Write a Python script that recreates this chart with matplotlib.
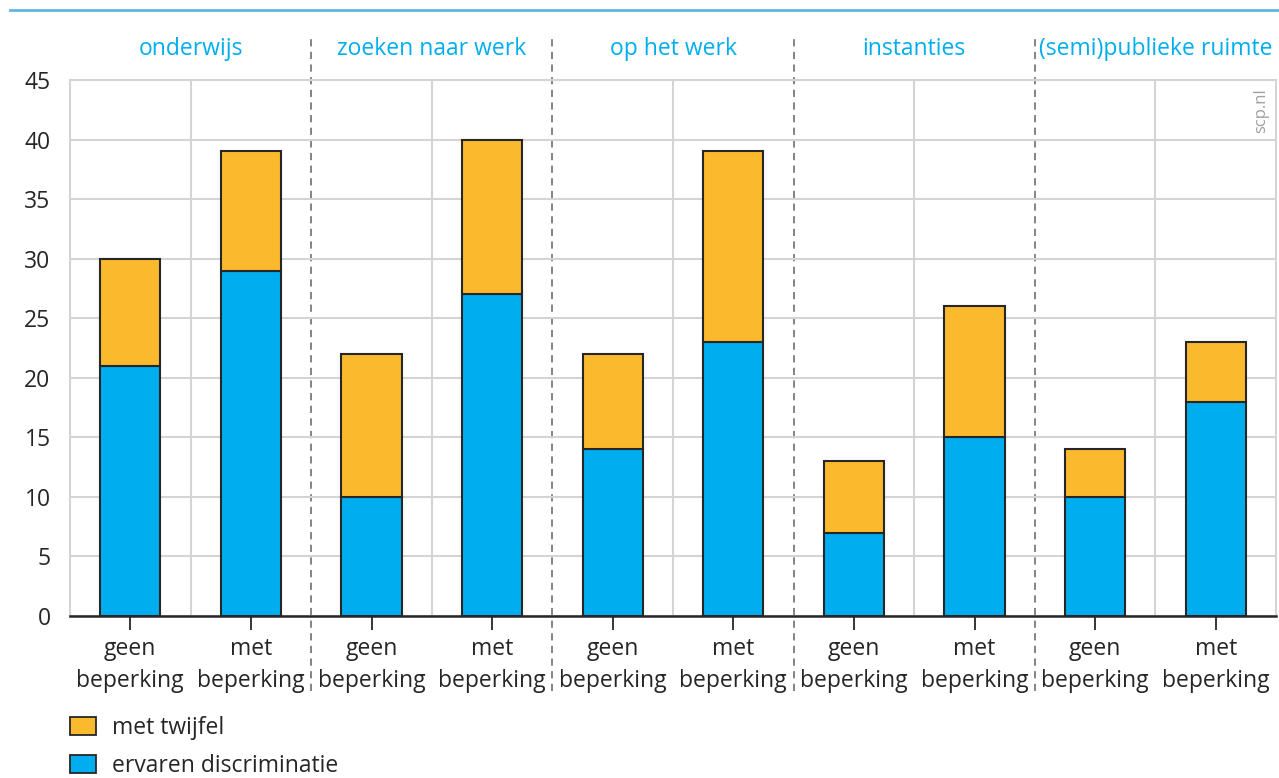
import numpy as np
from matplotlib import pyplot as plt
from matplotlib.lines import Line2D
from matplotlib.patches import Patch

groups = ['onderwijs', 'zoeken naar werk', 'op het werk', 'instanties', '(semi)publieke ruimte']
sub_labels = ['geen\nbeperking', 'met\nbeperking']
ervaren = [21, 29, 10, 27, 14, 23, 7, 15, 10, 18]
twijfel = [9, 10, 12, 13, 8, 16, 6, 11, 4, 5]

blue = '#00AEEF'
orange = '#FBBA2E'
edge = '#262626'
grid_c = '#d4d4d4'
txt = '#262626'

plt.rcParams['font.family'] = ['Open Sans', 'DejaVu Sans']

fig = plt.figure(figsize=(12.79, 7.78), dpi=100)
ax = fig.add_axes([70/1279, 1-616/778, 1206/1279, 536/778])

x = np.arange(len(ervaren))
ax.bar(x, ervaren, width=0.5, color=blue, edgecolor=edge, linewidth=1.5, zorder=3)
ax.bar(x, twijfel, width=0.5, bottom=ervaren, color=orange, edgecolor=edge, linewidth=1.5, zorder=3)

ax.set_xlim(-0.5, 9.5)
ax.set_ylim(0, 45)
ax.set_yticks(np.arange(0, 46, 5))
ax.yaxis.grid(True, color=grid_c, linewidth=1.5, zorder=0)
for i in range(len(groups)):
    ax.axvline(2*i + 0.5, color=grid_c, linewidth=1.5, zorder=0)
    ax.text(2*i + 0.5, 1.058, groups[i], transform=ax.get_xaxis_transform(),
            ha='center', va='center', color=blue, fontsize=16.5)
for i in range(1, len(groups)):
    ax.plot([2*i - 0.5, 2*i - 0.5], [-0.14, 1.085], transform=ax.get_xaxis_transform(),
            color='#7a7a7a', linestyle=(0, (4, 3)), linewidth=1.3, clip_on=False, zorder=1)

ax.set_xticks(x)
ax.set_xticklabels(sub_labels * len(groups), fontsize=16.5, color=txt, linespacing=1.45)
ax.tick_params(axis='x', length=10, width=1.3, color=txt, pad=5)
ax.tick_params(axis='y', length=0, pad=14, labelsize=16.5, labelcolor=txt)

for s in ['left', 'right', 'top']:
    ax.spines[s].set_color(grid_c)
    ax.spines[s].set_linewidth(1.5)
ax.spines['bottom'].set_color(txt)
ax.spines['bottom'].set_linewidth(1.8)
ax.spines['bottom'].set_zorder(4)

ax.text(0.988, 0.985, 'scp.nl', transform=ax.transAxes, rotation=90,
        ha='center', va='top', color='#a0a0a0', fontsize=12)

fig.add_artist(Line2D([10/1279, 1], [1-10/778, 1-10/778], color='#5cb8e2', linewidth=2))

handles = [Patch(facecolor=orange, edgecolor=edge, linewidth=1.3),
           Patch(facecolor=blue, edgecolor=edge, linewidth=1.3)]
fig.legend(handles, ['met twijfel', 'ervaren discriminatie'], loc='upper left',
           bbox_to_anchor=(70/1279, 1-716/778), frameon=False, fontsize=16.5,
           borderpad=0, borderaxespad=0,
           handlelength=1.15, handleheight=0.8, handletextpad=0.7, labelspacing=0.6,
           labelcolor=txt)

fig.savefig('out.png', dpi=100)
